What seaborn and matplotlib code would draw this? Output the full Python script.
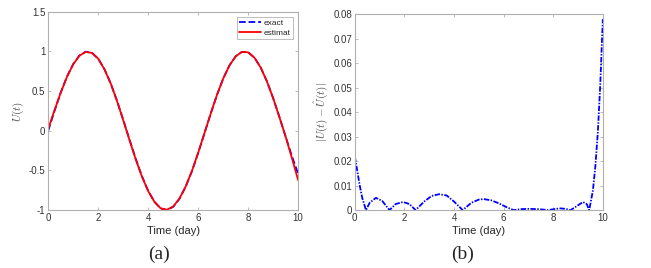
import numpy as np
import pandas as pd
import matplotlib
matplotlib.use('Agg')
import matplotlib.pyplot as plt
import seaborn as sns

# values
t = [0.0, 0.25, 0.5, 0.75, 1.0, 1.25, 1.5, 1.75, 2.0, 2.25, 2.5, 2.75, 3.0, 3.25,
     3.5, 3.75, 4.0, 4.25, 4.5, 4.75, 5.0, 5.25, 5.5, 5.75, 6.0, 6.25, 6.5, 6.75,
     7.0, 7.25, 7.5, 7.75, 8.0, 8.25, 8.5, 8.75, 9.0, 9.25, 9.5, 9.75, 10.0]
exact = [0.0, 0.247, 0.479, 0.682, 0.841, 0.949, 0.997, 0.984, 0.909, 0.778, 0.598,
         0.382, 0.141, -0.108, -0.351, -0.572, -0.757, -0.895, -0.978, -0.999,
         -0.959, -0.859, -0.706, -0.510, -0.279, -0.033, 0.215, 0.450, 0.657, 0.823,
         0.938, 0.995, 0.989, 0.922, 0.798, 0.624, 0.412, 0.174, -0.075, -0.319, -0.544]
estimat = [0.022, 0.256, 0.479, 0.678, 0.836, 0.947, 0.994, 0.981, 0.909, 0.775,
           0.598, 0.378, 0.135, -0.114, -0.357, -0.577, -0.760, -0.896, -0.978, -0.995,
           -0.955, -0.855, -0.702, -0.507, -0.277, -0.033, 0.215, 0.450, 0.657, 0.823,
           0.938, 0.995, 0.989, 0.922, 0.798, 0.623, 0.410, 0.171, -0.075, -0.344, -0.622]

t_err = [0, 0.1, 0.2, 0.3, 0.45, 0.6, 0.85, 1.1, 1.4, 1.65, 1.95, 2.2, 2.45, 2.8, 3.1,
         3.4, 3.7, 4.0, 4.35, 4.7, 5.0, 5.2, 5.5, 5.8, 6.1, 6.4, 6.7, 7.0, 7.4, 7.8,
         8.1, 8.3, 8.5, 8.7, 8.9, 9.2, 9.35, 9.45, 9.6, 9.7, 9.8, 9.9, 10.0]
err = [0.022, 0.016, 0.010, 0.005, 0.0, 0.003, 0.005, 0.0038, 0.0, 0.0025, 0.0033,
       0.0025, 0.0, 0.0035, 0.0058, 0.0065, 0.006, 0.0035, 0.0, 0.003, 0.0043, 0.0045,
       0.004, 0.0028, 0.0013, 0.0, 0.0004, 0.0005, 0.0004, 0.0, 0.0005, 0.0007, 0.0005,
       0.0, 0.0013, 0.0033, 0.0025, 0.0, 0.008, 0.018, 0.032, 0.052, 0.078]

sns.set_theme(style='white')
plt.rcParams['font.family'] = ['Liberation Sans', 'DejaVu Sans']
plt.rcParams['mathtext.fontset'] = 'cm'

df = pd.DataFrame({'t': t, 'exact': exact, 'estimat': estimat})
df_err = pd.DataFrame({'t': t_err, 'err': err})

fig = plt.figure(figsize=(6.51, 2.68), dpi=100)
ax1 = fig.add_axes([0.074, 0.216, 0.384, 0.740])
ax2 = fig.add_axes([0.545, 0.216, 0.381, 0.731])

sns.lineplot(data=df, x='t', y='exact', ax=ax1, color='blue', linestyle='--', lw=1.3, label='exact')
sns.lineplot(data=df, x='t', y='estimat', ax=ax1, color='red', lw=1.3, label='estimat')
sns.lineplot(data=df_err, x='t', y='err', ax=ax2, color='blue', lw=1.3,
             dashes=False, linestyle=(0, (3, 0.8, 0.8, 0.8)))

ax1.set_xlim(0, 10)
ax1.set_ylim(-1, 1.5)
ax1.set_xticks([0, 2, 4, 6, 8, 10])
ax1.set_yticks([-1, -0.5, 0, 0.5, 1, 1.5])
ax1.set_yticklabels(['-1', '-0.5', '0', '0.5', '1', '1.5'])
ax1.set_ylabel('$U(t)$', fontsize=8, color='#505050', labelpad=2)

ax2.set_xlim(0, 10)
ax2.set_ylim(0, 0.08)
ax2.set_xticks([0, 2, 4, 6, 8, 10])
ax2.set_yticks(np.arange(0, 0.081, 0.01))
ax2.set_yticklabels(['0', '0.01', '0.02', '0.03', '0.04', '0.05', '0.06', '0.07', '0.08'])
ax2.set_ylabel(r'$|U(t)-\hat{U}(t)|$', fontsize=8, color='#505050', labelpad=2)

for ax in (ax1, ax2):
    ax.set_xlabel('Time (day)', fontsize=8, color='#262626', labelpad=2)
    ax.tick_params(direction='in', length=2.5, width=0.6, labelsize=7,
                   colors='#b0b0b0', labelcolor='#333333', top=True, right=True,
                   bottom=True, left=True, pad=2)
    for s in ax.spines.values():
        s.set_color('#b0b0b0')
        s.set_linewidth(0.8)

leg = ax1.legend(loc='upper right', fontsize=6, frameon=True, fancybox=False,
                 handlelength=2.6, borderaxespad=0.6, borderpad=0.3, labelspacing=0.2,
                 handletextpad=0.3)
leg.get_frame().set_edgecolor('#a0a0a0')
leg.get_frame().set_linewidth(0.6)

fig.text(0.245, 0.05, '(a)', fontsize=14, family=['Liberation Serif', 'DejaVu Serif'],
         ha='center', va='center')
fig.text(0.711, 0.05, '(b)', fontsize=14, family=['Liberation Serif', 'DejaVu Serif'],
         ha='center', va='center')

plt.savefig('out.png', dpi=100)
